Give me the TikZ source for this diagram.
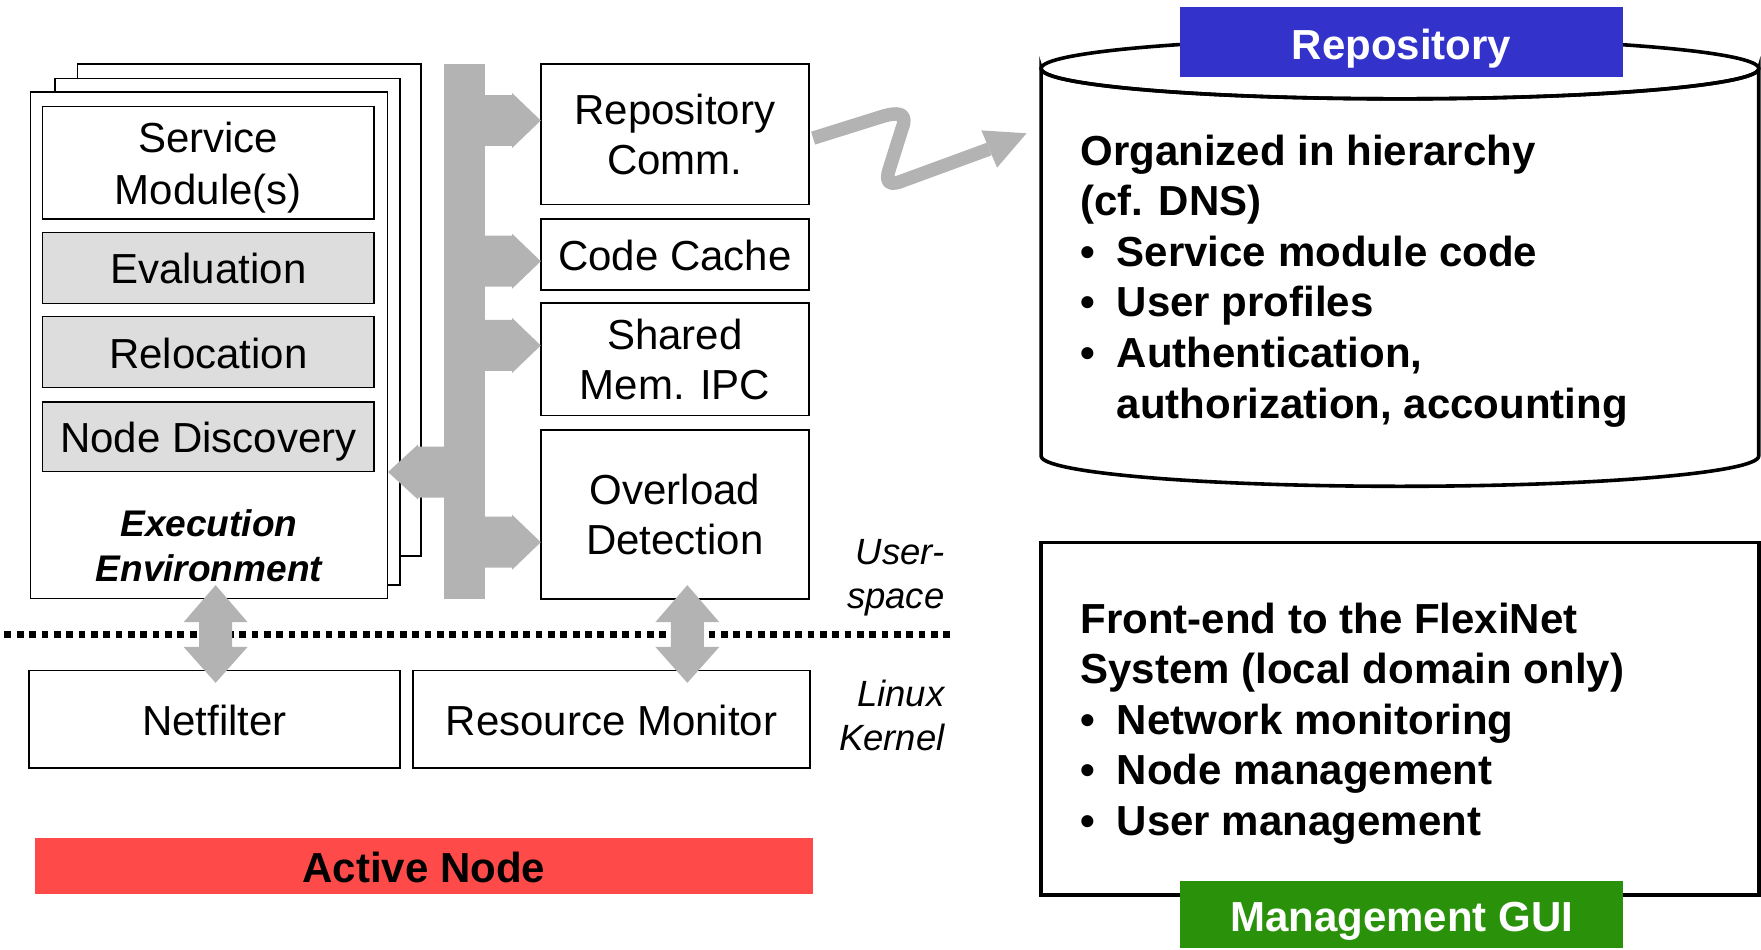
\documentclass[tikz,border=0pt]{standalone}
\usepackage{fontspec}
\setmainfont{Liberation Sans}
\usetikzlibrary{calc}

\definecolor{busgray}{HTML}{B3B3B3}
\definecolor{modgray}{HTML}{DDDDDD}
\definecolor{activered}{HTML}{FF4A4A}
\definecolor{repoblue}{HTML}{3333CC}
\definecolor{guigreen}{HTML}{2A920A}

% block arrow leaving the bus to the right, centred at height #1
\newcommand\busarrowright[1]{%
  \fill[busgray] (431,#1-22.7) -- (456,#1-22.7) -- (456,#1-24.5) -- (481.5,#1)
    -- (456,#1+24.5) -- (456,#1+22.7) -- (431,#1+22.7) -- cycle;}
% two-headed vertical arrow between user space and kernel, at x = #1
\newcommand\kernarrow[1]{%
  \fill[busgray] (#1,521) -- (#1+28.5,554) -- (#1+14.7,554) -- (#1+14.7,576)
    -- (#1+28.5,576) -- (#1,608) -- (#1-28.5,576) -- (#1-14.7,576)
    -- (#1-14.7,554) -- (#1-28.5,554) -- cycle;}
\newcommand\bul{\makebox[32.5pt][l]{•}}

\begin{document}
\begin{tikzpicture}[x=1pt, y=-1pt,
  every node/.style={inner sep=0pt, outer sep=0pt},
  thinbox/.style={draw=black, line width=1.3pt, fill=white},
  modbox/.style={draw=black, line width=1.3pt, fill=modgray},
  plainbox/.style={draw=black, line width=1.6pt, fill=white},
  boldbox/.style={draw=black, line width=3.2pt, fill=white},
  bigtext/.style={font=\fontsize{37.4}{44.5}\selectfont, align=center},
  onetext/.style={font=\fontsize{37.4}{44.5}\selectfont, text height=28.5pt, text depth=0pt},
  bodytext/.style={font=\fontsize{37.4}{45}\selectfont\bfseries, anchor=base west},
  sidelabel/.style={font=\fontsize{32.5}{39.5}\selectfont\itshape, align=right, anchor=east},
  tag/.style={text=white, font=\fontsize{37.4}{45}\selectfont\bfseries, minimum width=394,
              text height=30.8pt, text depth=0pt},
]
\useasboundingbox (0,0) rectangle (1568,845);

% ---------- execution environment stack ----------
\node[thinbox, minimum width=306, minimum height=438] (st3) at (222,276) {};
\node[thinbox, minimum width=307, minimum height=451] (st2) at (202.5,295.5) {};
\node[thinbox, minimum width=318, minimum height=451] (ee) at (186,307.5) {};
\node[thinbox, minimum width=295, minimum height=100] (sm) at (185.5,145) {};
\node[font=\fontsize{37.4}{46}\selectfont, align=center] (smtext) at (185.5,149) {Service\\Module(s)};
\node[modbox, minimum width=295, minimum height=63, onetext] (ev) at (185.5,238.5) {Evaluation};
\node[modbox, minimum width=295, minimum height=63, onetext] (rl) at (185.5,313.5) {Relocation};
\node[modbox, minimum width=295, minimum height=62, onetext] (nd) at (185.5,389) {Node Discovery};
\node[font=\fontsize{33}{40}\selectfont\bfseries\itshape, align=center] (eelabel) at (186,486) {Execution\\Environment};

% ---------- user-space services ----------
\node[plainbox, minimum width=238, minimum height=125, bigtext] (rc) at (601,119.5) {Repository\\Comm.};
\node[plainbox, minimum width=238, minimum height=63, onetext] (cc) at (601,226.5) {Code Cache};
\node[plainbox, minimum width=238, minimum height=100, bigtext] (sh) at (601,320) {Shared\\Mem. IPC};
\node[plainbox, minimum width=238, minimum height=150, bigtext] (od) at (601,458) {Overload\\Detection};

% ---------- bus with its block arrows ----------
\node[fill=busgray, minimum width=37, minimum height=476.5] (bus) at (413.5,295.3) {};
\busarrowright{107.3}
\busarrowright{232.6}
\busarrowright{307.6}
\busarrowright{482.8}
\fill[busgray] (396,420.3-22.7) -- (372.2,420.3-22.7) -- (372.2,420.3-24.5) -- (345.5,420.3)
  -- (372.2,420.3+24.5) -- (372.2,420.3+22.7) -- (396,420.3+22.7) -- cycle;

% ---------- kernel ----------
\node[plainbox, minimum width=330, minimum height=87, onetext] (nf) at (191,640.5) {Netfilter};
\node[plainbox, minimum width=353, minimum height=87, onetext] (rm) at (544.5,640.5) {Resource Monitor};

\coordinate (sepL) at (4,565);
\coordinate (sepR) at (850,565);
\draw[line width=6pt, dash pattern=on 6pt off 5pt] (sepL) -- (sepR);
\kernarrow{192}
\kernarrow{612}

\node[sidelabel] (us) at (841,514.5) {User-\\space};
\node[sidelabel] (lk) at (841,637) {Linux\\Kernel};

\node[fill=activered, minimum width=693, minimum height=50, text height=30pt, text depth=0pt,
      font=\fontsize{37.4}{45}\selectfont\bfseries] (an) at (377.5,771) {Active Node};

% ---------- link to the repository ----------
\coordinate (wavestart) at ($(rc.east)+(4,3.5)$);
\coordinate (waveend) at (880.8,132.7);
\draw[busgray, line width=12pt, line join=round]
  (wavestart) -- (783,104.5) .. controls (800,99) and (809,100) .. (803,115)
  -- (792,150) .. controls (787,165) and (794,165) .. (805,160.5) -- (waveend);
\fill[busgray] (914,118.7) -- (887.8,149.3) -- (873.8,116.1) -- cycle;

% ---------- repository cylinder ----------
\filldraw[fill=white, draw=black, line width=3.2pt]
  (927,61) -- (927,406) arc[start angle=180, end angle=0, x radius=319.5, y radius=27]
  -- (1566,61) arc[start angle=0, end angle=180, x radius=319.5, y radius=27] -- cycle;
\draw[line width=3.2pt] (1246.5,61) ellipse[x radius=319.5, y radius=27];
\node[tag, fill=repoblue, minimum height=63] (repotag) at (1248,37.5) {Repository};

\node[bodytext] (r1) at (962,147) {Organized in hierarchy};
\node[bodytext] (r2) at (962,192) {(cf. DNS)};
\node[bodytext] (r3) at (962,237.2) {\bul Service module code};
\node[bodytext] (r4) at (962,282.2) {\bul User profiles};
\node[bodytext] (r5) at (962,327.2) {\bul Authentication,};
\node[bodytext] (r6) at (994.5,372.3) {authorization, accounting};

% ---------- management GUI ----------
\node[boldbox, minimum width=639, minimum height=314] (gui) at (1246.5,640) {};
\node[bodytext] (g1) at (962,564) {Front-end to the FlexiNet};
\node[bodytext] (g2) at (962,608.9) {System (local domain only)};
\node[bodytext] (g3) at (962,653.8) {\bul Network monitoring};
\node[bodytext] (g4) at (962,698.7) {\bul Node management};
\node[bodytext] (g5) at (962,743.6) {\bul User management};
\node[tag, fill=guigreen, minimum height=60] (guitag) at (1248,814) {Management GUI};
\end{tikzpicture}
\end{document}
